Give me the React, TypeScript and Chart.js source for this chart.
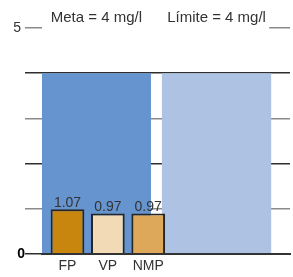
import React, { useEffect, useRef } from 'react';
import { Chart, registerables } from 'chart.js';

Chart.register(...registerables);

// ---- data ----
const CATEGORIES = ['FP', 'VP', 'NMP'];
const VALUES = [1.07, 0.97, 0.97];
const VALUE_LABELS = ['1.07', '0.97', '0.97'];
const BAR_COLORS = ['#C8860F', '#F2DAB6', '#DDA85A'];

const REF_NAMES = ['Meta', 'Límite'];
const REF_VALUES = [4, 4];
const REF_LABELS = ['Meta = 4 mg/l', 'Límite = 4 mg/l'];
const REF_COLORS = ['#6694CE', '#AEC3E4'];

const Y_TICK_VALUES = [0, 1, 2, 3, 4, 5];
const Y_TICK_LABELS = ['0', '', '', '', '', '5'];

const FONT = '"Liberation Sans", Arial, sans-serif';
const TEXT = '#333333';

const labelPlugin = {
  id: 'customLabels',
  afterDatasetsDraw(chart: any) {
    const ctx = chart.ctx;
    const yScale = chart.scales.y;
    const small = chart.getDatasetMeta(0);
    const refs = chart.getDatasetMeta(1);
    ctx.save();
    ctx.font = `14px ${FONT}`;
    ctx.textAlign = 'center';
    ctx.textBaseline = 'alphabetic';
    ctx.fillStyle = TEXT;
    small.data.forEach((bar: any, i: number) => {
      ctx.fillText(VALUE_LABELS[i], bar.x, bar.y - 2.5);
    });
    // white label boxes above the reference bars
    const top = yScale.getPixelForValue(Y_TICK_VALUES[Y_TICK_VALUES.length - 1]);
    const last = refs.data[refs.data.length - 1];
    const left = chart.chartArea.left;
    const right = last.x + last.width / 2 - 2;
    ctx.fillStyle = '#ffffff';
    ctx.fillRect(left, 0, right - left, top + 2);
    ctx.fillStyle = TEXT;
    ctx.font = `15px ${FONT}`;
    refs.data.forEach((bar: any, i: number) => {
      ctx.fillText(REF_LABELS[i], bar.x, top - 6);
    });
    ctx.restore();
  },
};

export default function App() {
  const ref = useRef<HTMLCanvasElement | null>(null);

  useEffect(() => {
    document.body.style.margin = '0';
    const canvas = ref.current;
    if (!canvas) return;
    Chart.defaults.font.family = FONT;

    const chart = new Chart(canvas, {
      type: 'bar',
      data: {
        datasets: [
          {
            label: 'Resultados',
            data: VALUES.map((v, i) => ({ x: i, y: v })),
            backgroundColor: BAR_COLORS,
            borderColor: '#262626',
            borderWidth: 2,
            xAxisID: 'xs',
            yAxisID: 'y2',
            grouped: false,
            categoryPercentage: 1,
            barPercentage: 0.835,
          },
          {
            label: 'Referencia',
            data: REF_VALUES.map((v, i) => ({ x: i, y: v })),
            backgroundColor: REF_COLORS,
            borderWidth: 0,
            xAxisID: 'xb',
            yAxisID: 'y',
            grouped: false,
            categoryPercentage: 1,
            barPercentage: 0.909,
          },
        ],
      },
      options: {
        animation: false,
        responsive: false,
        maintainAspectRatio: false,
        layout: { padding: { top: 28, right: 3, left: 0, bottom: 0 } },
        plugins: {
          legend: { display: false },
          tooltip: { enabled: false },
        },
        scales: {
          xs: {
            type: 'linear',
            position: 'bottom',
            offset: false,
            min: -0.632,
            max: 5.514,
            afterBuildTicks: (scale: any) => {
              scale.ticks = CATEGORIES.map((_, i) => ({ value: i }));
            },
            afterFit: (scale: any) => {
              scale.height = 23;
            },
            grid: { display: false, drawTicks: false },
            border: { display: true, color: '#333333', width: 2, z: 1 },
            ticks: {
              padding: 4,
              color: TEXT,
              font: { size: 14, family: FONT },
              autoSkip: false,
              maxRotation: 0,
              callback: (v: any) => CATEGORIES[v as number] ?? '',
            },
          },
          xb: {
            type: 'linear',
            display: false,
            offset: false,
            min: -0.452,
            max: 1.611,
            afterBuildTicks: (scale: any) => {
              scale.ticks = REF_NAMES.map((_, i) => ({ value: i }));
            },
          },
          y: {
            type: 'linear',
            position: 'left',
            min: 0,
            max: 5,
            afterBuildTicks: (scale: any) => {
              scale.ticks = Y_TICK_VALUES.map((v) => ({ value: v }));
            },
            afterFit: (scale: any) => {
              scale.width = 42;
            },
            border: { display: false },
            grid: {
              color: (c: any) => (c.tick && c.tick.value % 2 === 1 ? '#8a8a8a' : '#2e2e2e'),
              lineWidth: 1.5,
              drawTicks: true,
              tickLength: 17,
            },
            ticks: {
              padding: 0,
              color: (c: any) => (c.tick && c.tick.value === 0 ? '#000000' : TEXT),
              font: (c: any) => ({
                size: 14,
                family: FONT,
                weight: c.tick && c.tick.value === 0 ? 'bold' : 'normal',
              }),
              callback: (v: any) => {
                const idx = Y_TICK_VALUES.indexOf(v as number);
                const lab = idx >= 0 ? Y_TICK_LABELS[idx] : '';
                return lab && v !== 0 ? lab + ' ' : lab;
              },
            },
          },
          y2: {
            type: 'linear',
            display: false,
            min: 0,
            max: 5.4,
          },
        },
      },
      plugins: [labelPlugin],
    });

    return () => chart.destroy();
  }, []);

  return (
    <div style={{ width: 293, height: 277 }}>
      <canvas ref={ref} width={293} height={277} />
    </div>
  );
}
